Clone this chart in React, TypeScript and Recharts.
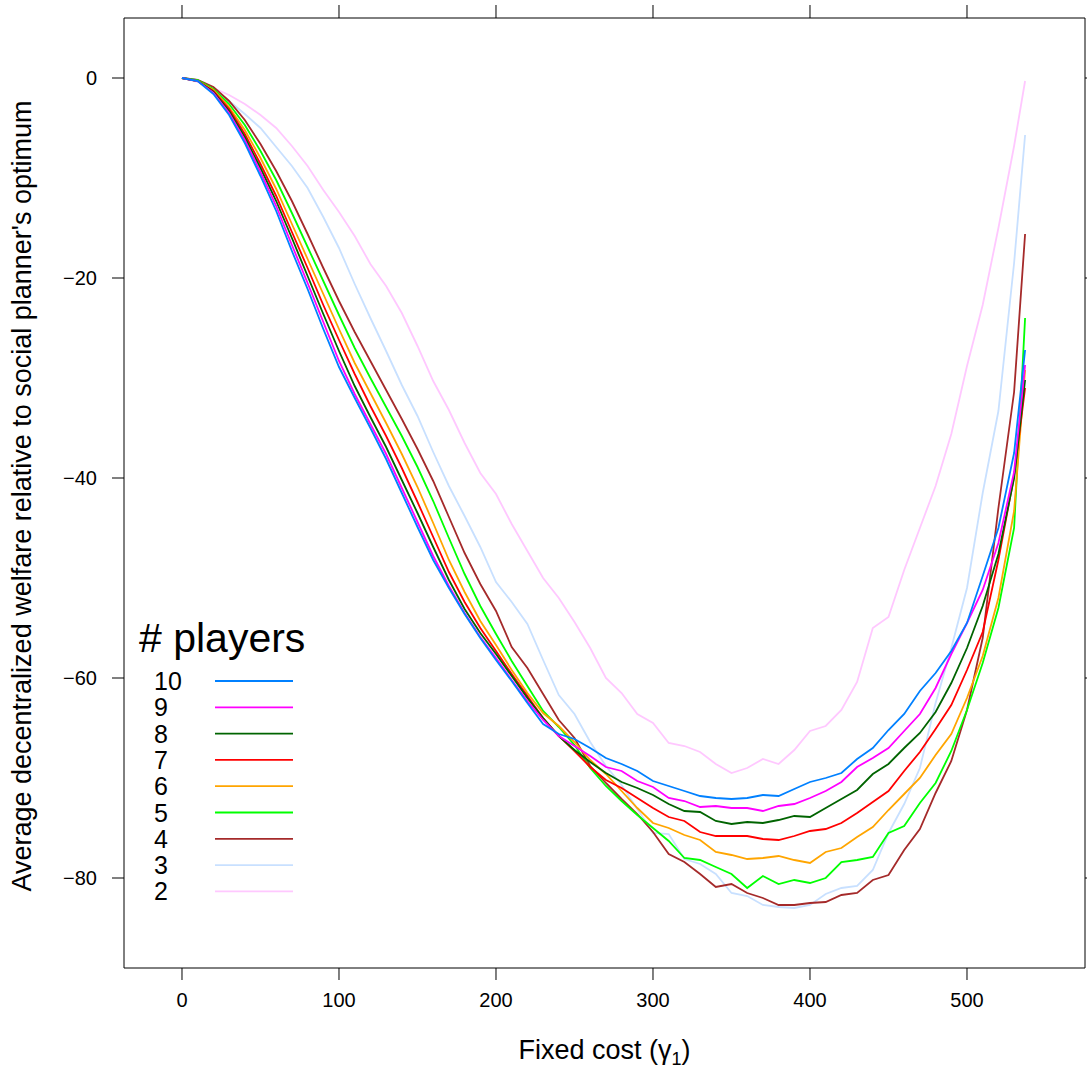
import { LineChart, Line, XAxis, YAxis, Legend, Label } from "recharts";

const FONT = "'Liberation Sans', Arial, Helvetica, sans-serif";

// fixed cost gamma_1
const costs = [
  0, 10, 20, 30, 40, 50, 60, 70, 80, 90, 100, 110, 120, 130, 140, 150, 160, 170, 180, 190,
  200, 210, 220, 230, 240, 250, 260, 270, 280, 290, 300, 310, 320, 330, 340, 350, 360, 370,
  380, 390, 400, 410, 420, 430, 440, 450, 460, 470, 480, 490, 500, 510, 520, 530, 537,
];

// average decentralized welfare relative to the social planner, by number of players
const players10 = [
  0, -0.3, -1.6, -3.7, -6.5, -9.8, -13.3, -17.3, -21.1, -25.1, -28.9, -32.0, -35.0, -38.1, -41.5,
  -44.9, -48.2, -51.0, -53.6, -56.0, -58.2, -60.3, -62.5, -64.6, -65.6, -66.1, -67.0, -68.0, -68.6,
  -69.3, -70.3, -70.8, -71.3, -71.8, -72.0, -72.1, -72.0, -71.7, -71.8, -71.1, -70.4, -70.0, -69.5,
  -68.1, -67.0, -65.2, -63.6, -61.3, -59.5, -57.3, -54.5, -49.8, -45.0, -37.5, -27.2,
];
const players9 = [
  0, -0.3, -1.5, -3.5, -6.2, -9.4, -12.8, -16.7, -20.5, -24.4, -28.3, -31.6, -34.6, -37.6, -41.0,
  -44.4, -47.8, -50.8, -53.5, -55.9, -58.0, -60.2, -62.3, -64.2, -65.8, -66.8, -67.8, -68.9, -69.3,
  -70.3, -70.9, -72.0, -72.3, -72.9, -72.8, -73.0, -73.0, -73.3, -72.8, -72.6, -72.0, -71.3, -70.4,
  -68.9, -68.0, -67.0, -65.3, -63.6, -61.0, -57.6, -54.5, -51.2, -46.5, -39.4, -28.7,
];
const players8 = [
  0, -0.3, -1.4, -3.3, -5.9, -9.0, -12.3, -16.0, -19.8, -23.6, -27.3, -30.8, -33.9, -36.9, -40.2,
  -43.5, -46.9, -50.2, -53.1, -55.5, -57.6, -59.8, -62.0, -64.0, -65.8, -67.2, -68.4, -69.5, -70.4,
  -71.0, -71.7, -72.6, -73.3, -73.4, -74.3, -74.6, -74.4, -74.5, -74.2, -73.8, -73.9, -73.0, -72.1,
  -71.2, -69.6, -68.6, -67.0, -65.5, -63.4, -60.5, -57.0, -52.8, -47.6, -40.0, -30.2,
];
const players7 = [
  0, -0.3, -1.3, -3.1, -5.6, -8.6, -11.8, -15.4, -19.0, -22.7, -26.2, -29.6, -32.8, -35.8, -39.0,
  -42.4, -45.9, -49.4, -52.4, -55.0, -57.3, -59.6, -61.8, -64.0, -65.8, -67.3, -68.9, -70.2, -71.0,
  -72.0, -73.0, -73.9, -74.3, -75.4, -75.8, -75.8, -75.8, -76.1, -76.2, -75.8, -75.3, -75.1, -74.5,
  -73.5, -72.4, -71.3, -69.3, -67.4, -65.1, -62.7, -59.2, -55.4, -48.2, -39.8, -31.0,
];
const players6 = [
  0, -0.3, -1.2, -2.9, -5.2, -8.0, -11.1, -14.6, -18.1, -21.6, -25.1, -28.5, -31.5, -34.5, -37.6,
  -40.9, -44.5, -48.2, -51.4, -54.3, -56.7, -59.2, -61.5, -63.5, -64.8, -66.4, -68.2, -69.6, -71.3,
  -73.0, -74.5, -75.0, -75.7, -76.2, -77.4, -77.7, -78.1, -78.0, -77.8, -78.2, -78.5, -77.4, -77.0,
  -75.9, -74.9, -73.2, -71.6, -70.0, -67.7, -65.6, -62.0, -57.8, -52.0, -43.3, -29.2,
];
const players5 = [
  0, -0.2, -1.1, -2.6, -4.7, -7.3, -10.2, -13.5, -16.9, -20.3, -23.7, -27.0, -30.0, -32.9, -35.8,
  -38.9, -42.3, -46.0, -49.6, -52.8, -55.6, -58.3, -60.8, -63.3, -64.9, -66.7, -69.0, -70.8, -72.3,
  -73.7, -75.0, -76.3, -78.0, -78.2, -78.9, -79.6, -81.0, -79.8, -80.6, -80.2, -80.5, -80.0, -78.4,
  -78.2, -77.9, -75.5, -74.8, -72.5, -70.5, -67.3, -63.2, -58.5, -53.0, -45.0, -24.0,
];
const players4 = [
  0, -0.2, -0.9, -2.3, -4.2, -6.6, -9.3, -12.3, -15.6, -19.0, -22.3, -25.4, -28.3, -31.2, -34.1,
  -37.1, -40.3, -43.9, -47.5, -50.6, -53.3, -56.9, -59.0, -61.6, -64.2, -66.0, -68.8, -70.5, -72.1,
  -73.6, -75.4, -77.6, -78.4, -79.6, -80.9, -80.6, -81.5, -82.0, -82.7, -82.7, -82.5, -82.4, -81.7,
  -81.5, -80.2, -79.7, -77.2, -75.1, -71.5, -68.3, -63.2, -56.0, -43.0, -31.4, -15.6,
];
const players3 = [
  0, -0.2, -1.1, -2.3, -3.6, -5.0, -6.9, -8.8, -11.0, -13.9, -17.0, -20.6, -24.0, -27.3, -30.7,
  -33.8, -37.4, -40.8, -43.8, -46.9, -50.4, -52.4, -54.6, -58.2, -61.7, -63.6, -66.4, -68.8, -70.7,
  -73.1, -75.5, -75.6, -78.1, -78.6, -79.6, -81.5, -81.8, -82.7, -82.9, -83.0, -82.7, -81.6, -81.0,
  -80.8, -79.2, -75.5, -72.6, -69.0, -62.5, -57.0, -51.0, -41.5, -33.3, -18.5, -5.7,
];
const players2 = [
  0, -0.4, -1.0, -1.7, -2.6, -3.7, -5.0, -6.8, -8.8, -11.2, -13.4, -15.8, -18.6, -20.8, -23.5,
  -26.8, -30.3, -33.2, -36.5, -39.5, -41.6, -44.6, -47.3, -50.0, -52.0, -54.4, -57.0, -60.0, -61.5,
  -63.6, -64.5, -66.5, -66.8, -67.4, -68.6, -69.5, -69.0, -68.1, -68.6, -67.2, -65.3, -64.8, -63.2,
  -60.4, -55.0, -53.9, -49.2, -45.0, -40.8, -35.6, -28.8, -22.7, -15.0, -6.8, -0.3,
];

const playerCounts = ["10", "9", "8", "7", "6", "5", "4", "3", "2"];
const seriesValues = [players10, players9, players8, players7, players6, players5, players4, players3, players2];
const lineColors = ["#0080ff", "#ff00ff", "#006400", "#ff0000", "#ffa500", "#00ff00", "#a52a2a", "#c8e0ff", "#ffc8ff"];

const xTicks = [0, 100, 200, 300, 400, 500];
const yTicks = [0, -20, -40, -60, -80];

const chartData = costs.map((x, i) => {
  const row: Record<string, number> = { x };
  playerCounts.forEach((p, k) => {
    row["p" + p] = seriesValues[k][i];
  });
  return row;
});

const xDomain = [-36.94, 575.16];
const yDomain = [-89, 6];

const tickStyle = { fontSize: 20, fill: "#000", fontFamily: FONT };

// tick marks only, no labels (lattice draws them on the top and right sides)
const NoLabel = () => <g />;

function PlayersLegend() {
  return (
    <svg width={330} height={920} style={{ display: "block", overflow: "visible" }}>
      <text x={139} y={652} fontSize={41} fontFamily={FONT} fill="#000">
        # players
      </text>
      {playerCounts.map((p, i) => (
        <g key={p}>
          <text x={154} y={690 + 26.3 * i} fontSize={25} fontFamily={FONT} fill="#000">
            {p}
          </text>
          <line
            x1={215}
            x2={293}
            y1={681 + 26.3 * i}
            y2={681 + 26.3 * i}
            stroke={lineColors[i]}
            strokeWidth={1.8}
          />
        </g>
      ))}
    </svg>
  );
}

const XTitle = () => (
  <text x={604.5} y={1059} textAnchor="middle" fontSize={27} fontFamily={FONT} fill="#000">
    Fixed cost (γ
    <tspan dy={6} fontSize={18}>1</tspan>
    <tspan dy={-6}>)</tspan>
  </text>
);

const YTitle = () => (
  <text
    x={31}
    y={496}
    transform="rotate(-90, 31, 496)"
    textAnchor="middle"
    fontSize={27}
    fontFamily={FONT}
    fill="#000"
  >
    Average decentralized welfare relative to social planner's optimum
  </text>
);

export default function App() {
  return (
    <div style={{ position: "absolute", left: 0, top: 0, background: "#fff" }}>
      <LineChart width={1087} height={1068} data={chartData} margin={{ top: 17, right: 1, bottom: 0, left: 0 }}>
        <XAxis
          dataKey="x"
          type="number"
          domain={xDomain}
          allowDataOverflow
          ticks={xTicks}
          height={100}
          tickSize={12}
          tickMargin={13}
          tick={tickStyle}
          axisLine={{ stroke: "#000" }}
          tickLine={{ stroke: "#000" }}
        >
          <Label content={XTitle} />
        </XAxis>
        <XAxis
          xAxisId="top"
          orientation="top"
          dataKey="x"
          type="number"
          domain={xDomain}
          allowDataOverflow
          ticks={xTicks}
          height={1}
          tickSize={13}
          tick={NoLabel}
          axisLine={{ stroke: "#000" }}
          tickLine={{ stroke: "#000" }}
        />
        <YAxis
          type="number"
          domain={yDomain}
          allowDataOverflow
          ticks={yTicks}
          width={124}
          tickSize={12}
          tickMargin={15}
          tick={tickStyle}
          tickFormatter={(v: number) => (v < 0 ? "\u2212" + Math.abs(v) : String(v))}
          axisLine={{ stroke: "#000" }}
          tickLine={{ stroke: "#000" }}
        >
          <Label content={YTitle} />
        </YAxis>
        <YAxis
          yAxisId="right"
          orientation="right"
          type="number"
          domain={yDomain}
          allowDataOverflow
          ticks={yTicks}
          width={1}
          tickSize={12}
          tick={NoLabel}
          axisLine={{ stroke: "#000" }}
          tickLine={{ stroke: "#000" }}
        />
        <Legend
          layout="vertical"
          align="center"
          verticalAlign="middle"
          content={PlayersLegend}
          wrapperStyle={{ left: 0, top: 0, width: 330, height: 920 }}
        />
        {playerCounts
          .map((p, k) => (
            <Line
              key={p}
              type="linear"
              dataKey={"p" + p}
              name={p}
              xAxisId={p === "2" ? "top" : 0}
              yAxisId={p === "2" ? "right" : 0}
              stroke={lineColors[k]}
              strokeWidth={1.8}
              dot={false}
              activeDot={false}
              isAnimationActive={false}
            />
          ))
          .reverse()}
      </LineChart>
    </div>
  );
}
